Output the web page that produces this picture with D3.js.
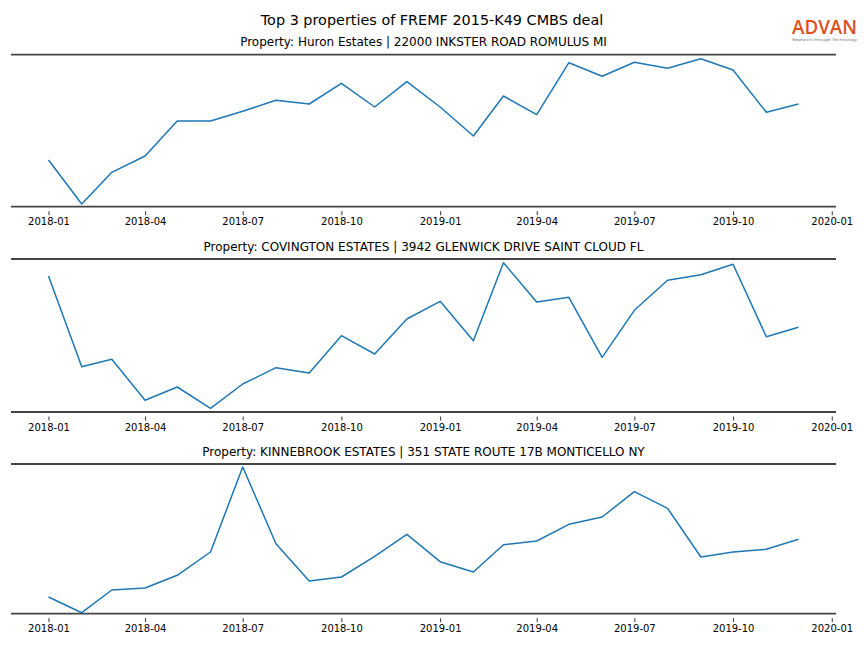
<!DOCTYPE html>
<html>
<head>
<meta charset="utf-8">
<script src="https://cdn.jsdelivr.net/npm/d3@7"></script>
<style>
  body { margin: 0; background: #fff; }
  svg { display: block; }
</style>
</head>
<body>
<svg id="chart" width="864" height="648"></svg>
<script>
// ---- Data ----
const months = ["2018-01","2018-02","2018-03","2018-04","2018-05","2018-06","2018-07","2018-08","2018-09","2018-10","2018-11","2018-12",
                "2019-01","2019-02","2019-03","2019-04","2019-05","2019-06","2019-07","2019-08","2019-09","2019-10","2019-11","2019-12"];
const tickLabels = ["2018-01","2018-04","2018-07","2018-10","2019-01","2019-04","2019-07","2019-10","2020-01"];
const propertyTitles = [
  "Property: Huron Estates | 22000 INKSTER ROAD ROMULUS MI",
  "Property: COVINGTON ESTATES | 3942 GLENWICK DRIVE SAINT CLOUD FL",
  "Property: KINNEBROOK ESTATES | 351 STATE ROUTE 17B MONTICELLO NY"
];
const huronValues = [46.7, 2.7, 34.4, 50.7, 85.7, 85.7, 95.4, 106.4, 102.7, 123.4, 99.7, 125,
                     99.7, 70.7, 110.7, 92, 144, 130.4, 144.4, 138.4, 148, 136.7, 94.4, 102.7];
const covingtonValues = [136, 45.3, 52.7, 11.7, 25, 3.7, 28, 44.3, 39, 76.3, 58, 93,
                         110.7, 71.3, 149.3, 110, 114.7, 54.7, 101.7, 131.7, 137.3, 147.7, 75.3, 84.7];
const kinnebrookValues = [16.7, 1, 23.7, 25.7, 38.4, 61.7, 146.7, 70, 32.7, 36.7, 57.4, 79.4,
                          52, 41.7, 69, 72.7, 89.4, 96.7, 122, 105.4, 56.7, 61.7, 64.4, 74.4];
const seriesList = [huronValues, covingtonValues, kinnebrookValues];
const yDomains = [[0, 152], [0, 153], [0, 149.7]];
const mainTitle = "Top 3 properties of FREMF 2015-K49 CMBS deal";

// ---- Layout ----
const svg = d3.select("#chart");
const font = "DejaVu Sans, sans-serif";
const parse = d3.timeParse("%Y-%m");
const dates = months.map(parse);
const ticks = tickLabels.map(parse);

const left = 11, right = 836;
const panels = [
  {top: 54.7, bottom: 206.7},
  {top: 259, bottom: 412},
  {top: 464, bottom: 613.7}
];

// x: matplotlib-like 5% margins around data range
const t0 = +dates[0], t1 = +dates[dates.length - 1];
const pad = (t1 - t0) * 0.05;
const x = d3.scaleTime().domain([new Date(t0 - pad), new Date(t1 + pad)]).range([left, right]);

svg.append("text")
  .attr("x", 432).attr("y", 24.5)
  .attr("text-anchor", "middle")
  .attr("font-family", font).attr("font-size", 14.4)
  .attr("fill", "#000")
  .text(mainTitle);

// logo
const logo = svg.append("g");
logo.append("text")
  .attr("x", 824.5).attr("y", 34)
  .attr("text-anchor", "middle")
  .attr("font-family", "Open Sans, DejaVu Sans, sans-serif")
  .attr("font-size", 20).attr("font-weight", 600)
  .attr("fill", "#e0501e")
  .attr("textLength", 65).attr("lengthAdjust", "spacingAndGlyphs")
  .text("ADVAN");
logo.append("text")
  .attr("x", 824.5).attr("y", 41)
  .attr("text-anchor", "middle")
  .attr("font-family", font)
  .attr("font-size", 3.6)
  .attr("fill", "#777")
  .attr("textLength", 65).attr("lengthAdjust", "spacingAndGlyphs")
  .text("Research through Technology");

panels.forEach((p, i) => {
  const y = d3.scaleLinear().domain(yDomains[i]).range([p.bottom, p.top]);
  const g = svg.append("g");

  g.append("text")
    .attr("x", (left + right) / 2).attr("y", p.top - 8.5)
    .attr("text-anchor", "middle")
    .attr("font-family", font).attr("font-size", 12)
    .attr("fill", "#000")
    .text(propertyTitles[i]);

  // horizontal border lines
  [p.top, p.bottom].forEach(yy => {
    g.append("line")
      .attr("x1", left).attr("x2", right)
      .attr("y1", yy).attr("y2", yy)
      .attr("stroke", "#444").attr("stroke-width", 1.8);
  });

  // x axis
  const axis = d3.axisBottom(x)
    .tickValues(ticks)
    .tickFormat(d3.timeFormat("%Y-%m"))
    .tickSize(4).tickPadding(3);
  const ax = g.append("g")
    .attr("transform", `translate(0,${p.bottom + 4.5})`)
    .call(axis);
  ax.select(".domain").remove();
  ax.selectAll(".tick line").attr("stroke", "#000").attr("stroke-width", 0.8);
  ax.selectAll(".tick text")
    .attr("font-family", font).attr("font-size", 10).attr("fill", "#000");

  // line
  const line = d3.line()
    .x((d, j) => x(dates[j]))
    .y(d => y(d));
  g.append("path")
    .datum(seriesList[i])
    .attr("d", line)
    .attr("fill", "none")
    .attr("stroke", "#1f77b4")
    .attr("stroke-width", 1.5)
    .attr("stroke-linejoin", "round");
});
</script>
</body>
</html>
